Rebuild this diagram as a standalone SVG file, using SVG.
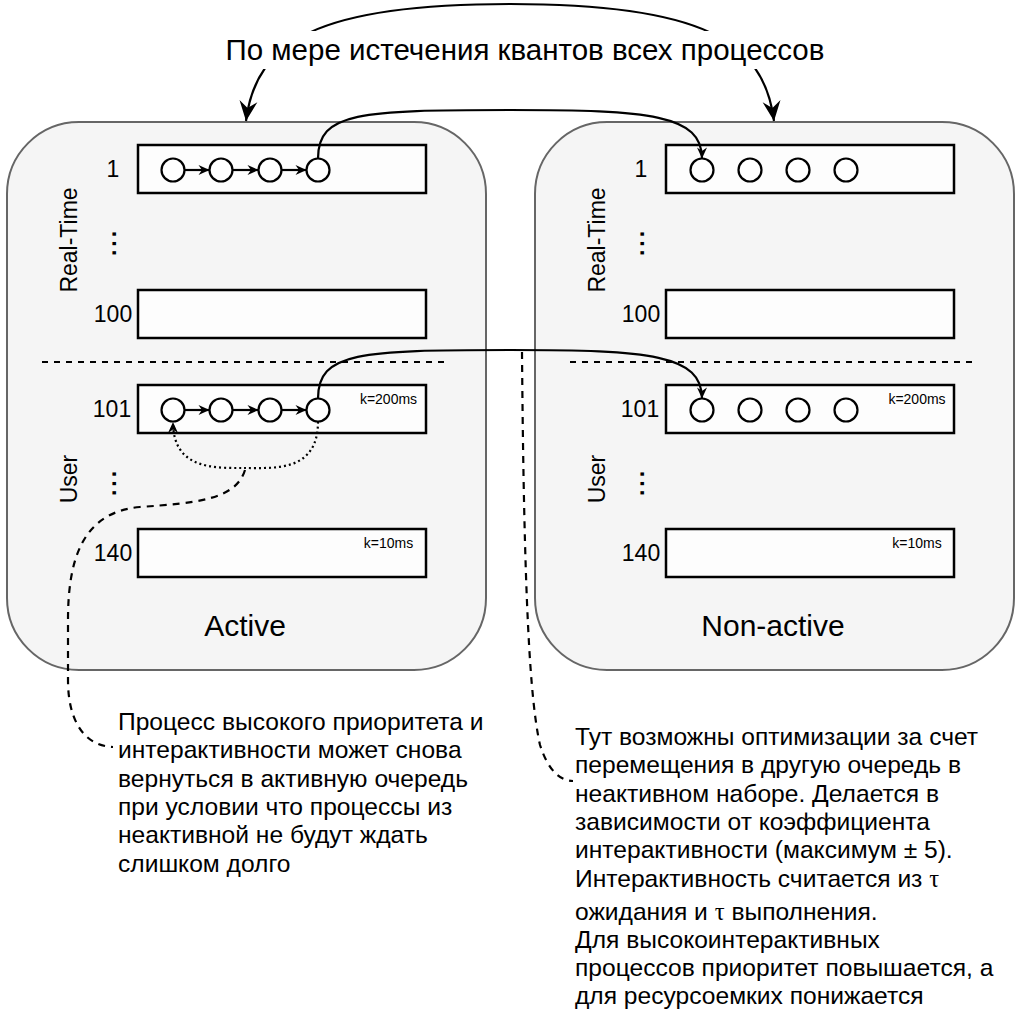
<svg xmlns="http://www.w3.org/2000/svg" width="1016" height="1016" viewBox="0 0 1016 1016">
<style>
text{font-family:"Liberation Sans",Arial,Helvetica,sans-serif;fill:#000}
.cont{fill:#f5f5f5;stroke:#666;stroke-width:2}
.q{fill:#fdfdfd;stroke:#000;stroke-width:2.5}
.p{fill:#fff;stroke:#000;stroke-width:2.2}
.sep{fill:none;stroke:#000;stroke-width:2;stroke-dasharray:6 6}
.num{font-size:23px;text-anchor:middle}
.vlab{font-size:23px;text-anchor:middle}
.dots{font-size:23px;text-anchor:middle;font-weight:bold}
.k{font-size:14px;text-anchor:middle}
.big{font-size:30px;text-anchor:middle}
.note{font-size:24.6px}
.e{fill:none;stroke:#000;stroke-width:2.2}
.dash{stroke-dasharray:7 6}
.dot{stroke-dasharray:2 3}
.tau{font-family:"Liberation Serif","Times New Roman",serif}
</style>
<defs>
<marker id="arrL" viewBox="-22 -11 24 22" refX="0" refY="0" markerWidth="24" markerHeight="22" orient="auto-start-reverse" markerUnits="userSpaceOnUse">
<path d="M0,0 L-20,-9 L-13,0 L-20,9 Z" fill="#000"/>
</marker>
<marker id="arrS" viewBox="-13 -7 14 14" refX="0" refY="0" markerWidth="14" markerHeight="14" orient="auto" markerUnits="userSpaceOnUse">
<path d="M0,0 L-11,-5 L-7.5,0 L-11,5 Z" fill="#000"/>
</marker>
</defs>
<rect width="1016" height="1016" fill="#fff"/>

<g id="active">
<rect class="cont" x="7" y="122" width="479" height="548" rx="72" ry="72"/>
<line class="sep" x1="42" y1="362" x2="450" y2="362"/>
<text class="vlab" transform="translate(77,240) rotate(-90)">Real-Time</text>
<text class="vlab" transform="translate(77,479) rotate(-90)">User</text>
<text class="dots" letter-spacing="3" transform="translate(116,242) rotate(-90)">...</text>
<text class="dots" letter-spacing="3" transform="translate(116,482) rotate(-90)">...</text>
<text class="big" x="245" y="636">Active</text>
</g>
<g id="active-q1"><rect class="q" x="138" y="145" width="288" height="48"/><text class="num" x="113" y="177">1</text></g>
<g id="active-q100"><rect class="q" x="138" y="290" width="288" height="48"/><text class="num" x="113" y="322">100</text></g>
<g id="active-q101"><rect class="q" x="138" y="385" width="288" height="48"/><text class="num" x="112" y="417">101</text><text class="k" x="388.5" y="404">k=200ms</text></g>
<g id="active-q140"><rect class="q" x="138" y="529" width="288" height="48"/><text class="num" x="113" y="561">140</text><text class="k" x="388.5" y="548">k=10ms</text></g>
<g id="active-p1-1"><circle class="p" cx="173" cy="170" r="11.5"/></g>
<g id="active-p1-2"><circle class="p" cx="221" cy="170" r="11.5"/></g>
<g id="active-p1-3"><circle class="p" cx="270" cy="170" r="11.5"/></g>
<g id="active-p1-4"><circle class="p" cx="318" cy="170" r="11.5"/></g>
<g id="active-p101-1"><circle class="p" cx="173" cy="410" r="11.5"/></g>
<g id="active-p101-2"><circle class="p" cx="221" cy="410" r="11.5"/></g>
<g id="active-p101-3"><circle class="p" cx="270" cy="410" r="11.5"/></g>
<g id="active-p101-4"><circle class="p" cx="318" cy="410" r="11.5"/></g>

<g id="nonactive">
<rect class="cont" x="535" y="122" width="479" height="548" rx="72" ry="72"/>
<line class="sep" x1="570" y1="362" x2="978" y2="362"/>
<text class="vlab" transform="translate(605,240) rotate(-90)">Real-Time</text>
<text class="vlab" transform="translate(605,479) rotate(-90)">User</text>
<text class="dots" letter-spacing="3" transform="translate(644,242) rotate(-90)">...</text>
<text class="dots" letter-spacing="3" transform="translate(644,482) rotate(-90)">...</text>
<text class="big" x="773" y="636">Non-active</text>
</g>
<g id="nonactive-q1"><rect class="q" x="666" y="145" width="288" height="48"/><text class="num" x="641" y="177">1</text></g>
<g id="nonactive-q100"><rect class="q" x="666" y="290" width="288" height="48"/><text class="num" x="641" y="322">100</text></g>
<g id="nonactive-q101"><rect class="q" x="666" y="385" width="288" height="48"/><text class="num" x="640" y="417">101</text><text class="k" x="917" y="404">k=200ms</text></g>
<g id="nonactive-q140"><rect class="q" x="666" y="529" width="288" height="48"/><text class="num" x="641" y="561">140</text><text class="k" x="917" y="548">k=10ms</text></g>
<g id="nonactive-p1-1"><circle class="p" cx="702" cy="170" r="11.5"/></g>
<g id="nonactive-p1-2"><circle class="p" cx="750" cy="170" r="11.5"/></g>
<g id="nonactive-p1-3"><circle class="p" cx="798" cy="170" r="11.5"/></g>
<g id="nonactive-p1-4"><circle class="p" cx="846" cy="170" r="11.5"/></g>
<g id="nonactive-p101-1"><circle class="p" cx="702" cy="410" r="11.5"/></g>
<g id="nonactive-p101-2"><circle class="p" cx="750" cy="410" r="11.5"/></g>
<g id="nonactive-p101-3"><circle class="p" cx="798" cy="410" r="11.5"/></g>
<g id="nonactive-p101-4"><circle class="p" cx="846" cy="410" r="11.5"/></g>

<g id="connectors">
<path class="e" d="M184.5 170 H209.5" marker-end="url(#arrS)"/>
<path class="e" d="M232.5 170 H258.5" marker-end="url(#arrS)"/>
<path class="e" d="M281.5 170 H306.5" marker-end="url(#arrS)"/>
<path class="e" d="M184.5 410 H209.5" marker-end="url(#arrS)"/>
<path class="e" d="M232.5 410 H258.5" marker-end="url(#arrS)"/>
<path class="e" d="M281.5 410 H306.5" marker-end="url(#arrS)"/>
<path class="e" d="M318 158.5 C318 112 360 110 510 110 C650 110 702 115 702 158.5" marker-end="url(#arrS)"/>
<path class="e" d="M318 398.5 C318 352 360 350 510 350 C650 350 702 355 702 398.5" marker-end="url(#arrS)"/>
<path class="e dot" d="M318 421.5 C318 472 275 468 245 468 C215 468 173 470 173 422" marker-end="url(#arrS)"/>
<path class="e dash" d="M245 470 C236 500 195 503 140 507 C82 512 68 560 68 620 L68 680 C68 722 85 746 113 747"/>
<path class="e dash" d="M522 352 C524 600 530 700 540 745 C548 770 560 781 573 781"/>
<path class="e" d="M246 121 C256 40 320 4 510 4 C700 4 764 40 774 121" marker-start="url(#arrL)" marker-end="url(#arrL)"/>
</g>

<g id="title-label">
<rect x="226" y="31" width="598" height="38" fill="#fff"/>
<text x="525" y="60" font-size="29.5" text-anchor="middle">По мере истечения квантов всех процессов</text>
</g>

<g id="note-left">
<text class="note" x="118" y="730">Процесс высокого приоритета и</text>
<text class="note" x="118" y="758.3">интерактивности может снова</text>
<text class="note" x="118" y="786.6">вернуться в активную очередь</text>
<text class="note" x="118" y="814.9">при условии что процессы из</text>
<text class="note" x="118" y="843.2">неактивной не будут ждать</text>
<text class="note" x="118" y="871.5">слишком долго</text>
</g>

<g id="note-right">
<text class="note" x="575" y="745">Тут возможны оптимизации за счет</text>
<text class="note" x="575" y="773.3">перемещения в другую очередь в</text>
<text class="note" x="575" y="801.6">неактивном наборе. Делается в</text>
<text class="note" x="575" y="829.9">зависимости от коэффициента</text>
<text class="note" x="575" y="858.2">интерактивности (максимум ± 5).</text>
<text class="note" x="575" y="886.5">Интерактивность считается из <tspan class="tau">τ</tspan></text>
<text class="note" x="575" y="919.5">ожидания и <tspan class="tau">τ</tspan> выполнения.</text>
<text class="note" x="575" y="947.8">Для высокоинтерактивных</text>
<text class="note" x="575" y="976.1">процессов приоритет повышается, а</text>
<text class="note" x="575" y="1004.4">для ресурсоемких понижается</text>
</g>
</svg>
